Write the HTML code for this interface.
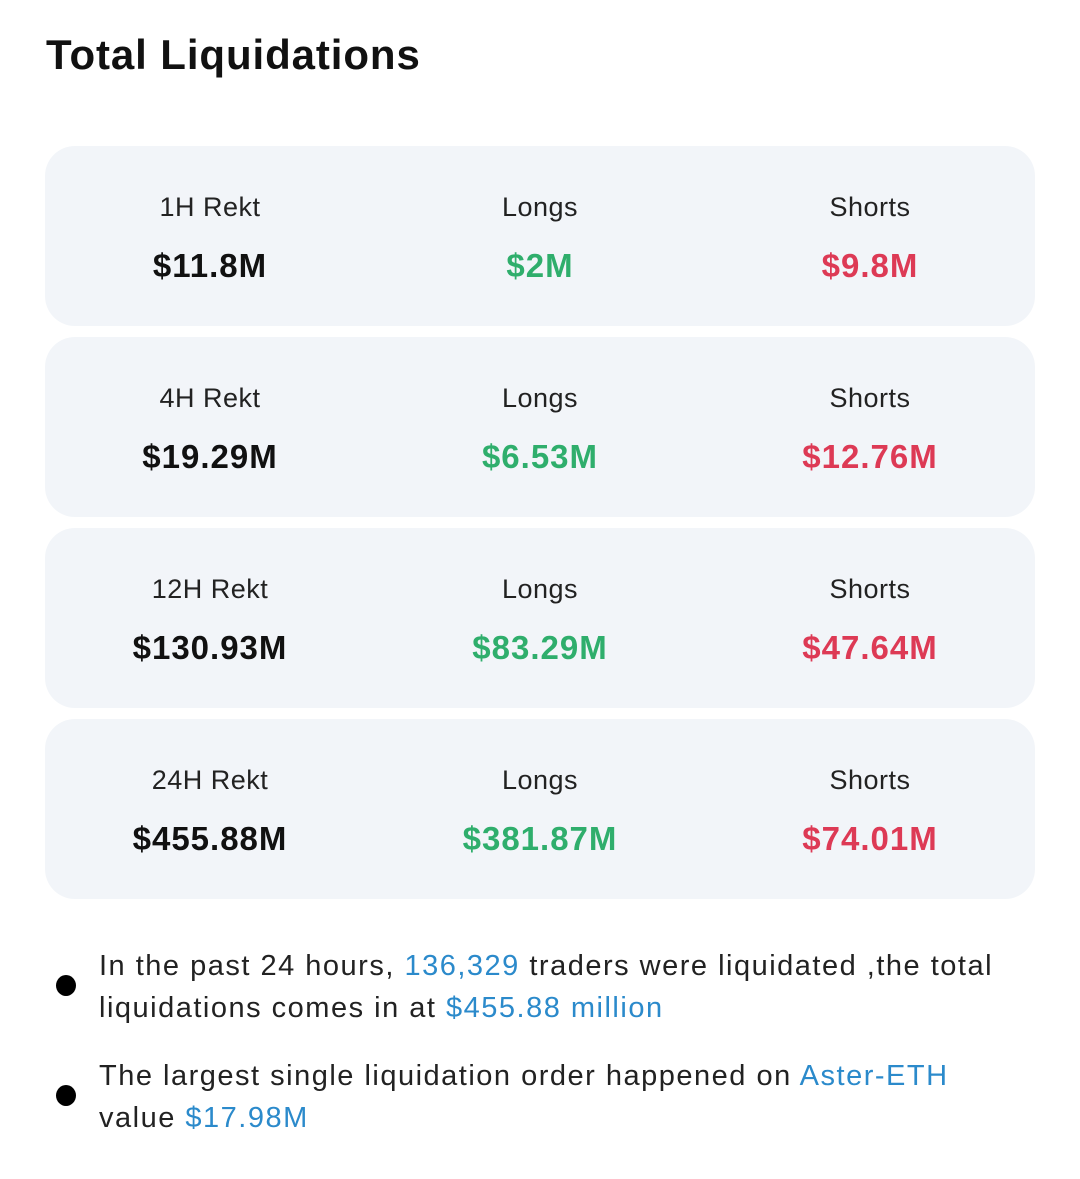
<!DOCTYPE html>
<html><head><meta charset="utf-8"><style>
body{margin:0;width:1080px;height:1179px;background:#fff;font-family:"Liberation Sans",sans-serif;color:#111;position:relative;overflow:hidden}
h1{position:absolute;left:46px;top:31px;margin:0;font-size:42px;font-weight:bold;letter-spacing:0.9px}
.card{position:absolute;left:45px;width:990px;height:180px;background:#f2f5f9;border-radius:30px}
.c{position:absolute;width:300px;text-align:center}
.l{top:46px;font-size:27px;color:#222;letter-spacing:0.5px}
.v{top:101px;font-size:33px;font-weight:bold;letter-spacing:1px}
.g{color:#2fae6c}.r{color:#dd3a55}.b{color:#2b8acb}
.t{position:absolute;left:99px;font-size:29px;line-height:42px;white-space:nowrap;color:#222;letter-spacing:1.5px}
.dot{position:absolute;left:56px;width:20px;height:21px;border-radius:50%;background:#000}
</style></head><body>
<h1>Total Liquidations</h1>

<div class="card" style="top:146px">
<div class="c l" style="left:15px">1H Rekt</div><div class="c v" style="left:15px">$11.8M</div>
<div class="c l" style="left:345px">Longs</div><div class="c v g" style="left:345px">$2M</div>
<div class="c l" style="left:675px">Shorts</div><div class="c v r" style="left:675px">$9.8M</div>
</div>
<div class="card" style="top:337px">
<div class="c l" style="left:15px">4H Rekt</div><div class="c v" style="left:15px">$19.29M</div>
<div class="c l" style="left:345px">Longs</div><div class="c v g" style="left:345px">$6.53M</div>
<div class="c l" style="left:675px">Shorts</div><div class="c v r" style="left:675px">$12.76M</div>
</div>
<div class="card" style="top:528px">
<div class="c l" style="left:15px">12H Rekt</div><div class="c v" style="left:15px">$130.93M</div>
<div class="c l" style="left:345px">Longs</div><div class="c v g" style="left:345px">$83.29M</div>
<div class="c l" style="left:675px">Shorts</div><div class="c v r" style="left:675px">$47.64M</div>
</div>
<div class="card" style="top:719px">
<div class="c l" style="left:15px">24H Rekt</div><div class="c v" style="left:15px">$455.88M</div>
<div class="c l" style="left:345px">Longs</div><div class="c v g" style="left:345px">$381.87M</div>
<div class="c l" style="left:675px">Shorts</div><div class="c v r" style="left:675px">$74.01M</div>
</div>

<div class="dot" style="top:975px"></div>
<div class="t" style="top:945px">In the past 24 hours, <span class="b">136,329</span> traders were liquidated ,the total<br>liquidations comes in at <span class="b">$455.88 million</span></div>
<div class="dot" style="top:1085px"></div>
<div class="t" style="top:1055px">The largest single liquidation order happened on <span class="b">Aster-ETH</span><br>value <span class="b">$17.98M</span></div>
</body></html>
